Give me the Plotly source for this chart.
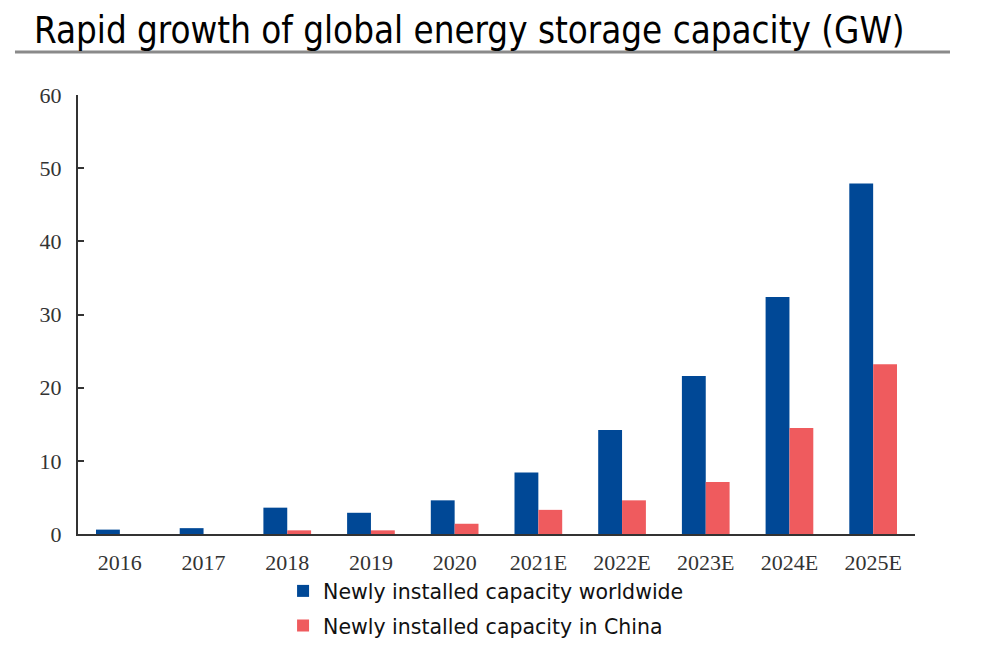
import plotly.graph_objects as go

# Daten
years = ["2016", "2017", "2018", "2019", "2020", "2021E", "2022E", "2023E", "2024E", "2025E"]
worldwide = [0.6, 0.8, 3.6, 2.9, 4.6, 8.4, 14.2, 21.6, 32.4, 47.9]
china = [0.0, 0.0, 0.5, 0.5, 1.4, 3.3, 4.6, 7.1, 14.5, 23.2]
y_ticks = [0, 10, 20, 30, 40, 50, 60]

BLUE = "#004896"
RED = "#EF5B5E"
AXIS = "#333333"

fig = go.Figure()

fig.add_trace(go.Bar(
    x=years, y=worldwide,
    name="Newly installed capacity worldwide",
    marker=dict(color=BLUE, line=dict(width=0)),
    legend="legend",
))
fig.add_trace(go.Bar(
    x=years, y=china,
    name="Newly installed capacity in China",
    marker=dict(color=RED, line=dict(width=0)),
    legend="legend2",
))

legend_font = dict(family="DejaVu Sans", size=20.5, color="#111111")

fig.update_layout(
    width=1000, height=652,
    margin=dict(l=70, r=93, t=87, b=126),
    paper_bgcolor="white",
    plot_bgcolor="white",
    barmode="group",
    bargap=0.43,
    bargroupgap=0,
    showlegend=True,
    legend=dict(x=0.245, y=-0.130, xanchor="left", yanchor="middle",
                font=legend_font, bgcolor="rgba(0,0,0,0)"),
    legend2=dict(x=0.245, y=-0.209, xanchor="left", yanchor="middle",
                 font=legend_font, bgcolor="rgba(0,0,0,0)"),
)

tick_font = dict(family="Liberation Serif", size=22, color="#333333")

fig.update_xaxes(
    showline=True, linecolor=AXIS, linewidth=2,
    showgrid=False, ticks="",
    tickfont=tick_font,
    ticklabelstandoff=8,
)
fig.update_yaxes(
    range=[0, 60], tickvals=y_ticks,
    showline=True, linecolor=AXIS, linewidth=2,
    showgrid=False, zeroline=False,
    ticks="inside", ticklen=6, tickwidth=2, tickcolor=AXIS,
    tickfont=tick_font,
    ticklabelstandoff=10,
)

# Überschrift mit grauer Linie darunter
fig.add_annotation(
    text="Rapid growth of global energy storage capacity (GW)",
    xref="paper", yref="paper", x=-0.055, y=1.147,
    xanchor="left", yanchor="middle", showarrow=False,
    font=dict(family="DejaVu Sans Condensed", size=36.4, color="#000000"),
)
fig.add_shape(
    type="line", xref="paper", yref="paper",
    x0=-0.0753, x1=1.0418, y0=1.098, y1=1.098,
    line=dict(color="#8a8a8a", width=3),
)

fig.write_html("out.html")
